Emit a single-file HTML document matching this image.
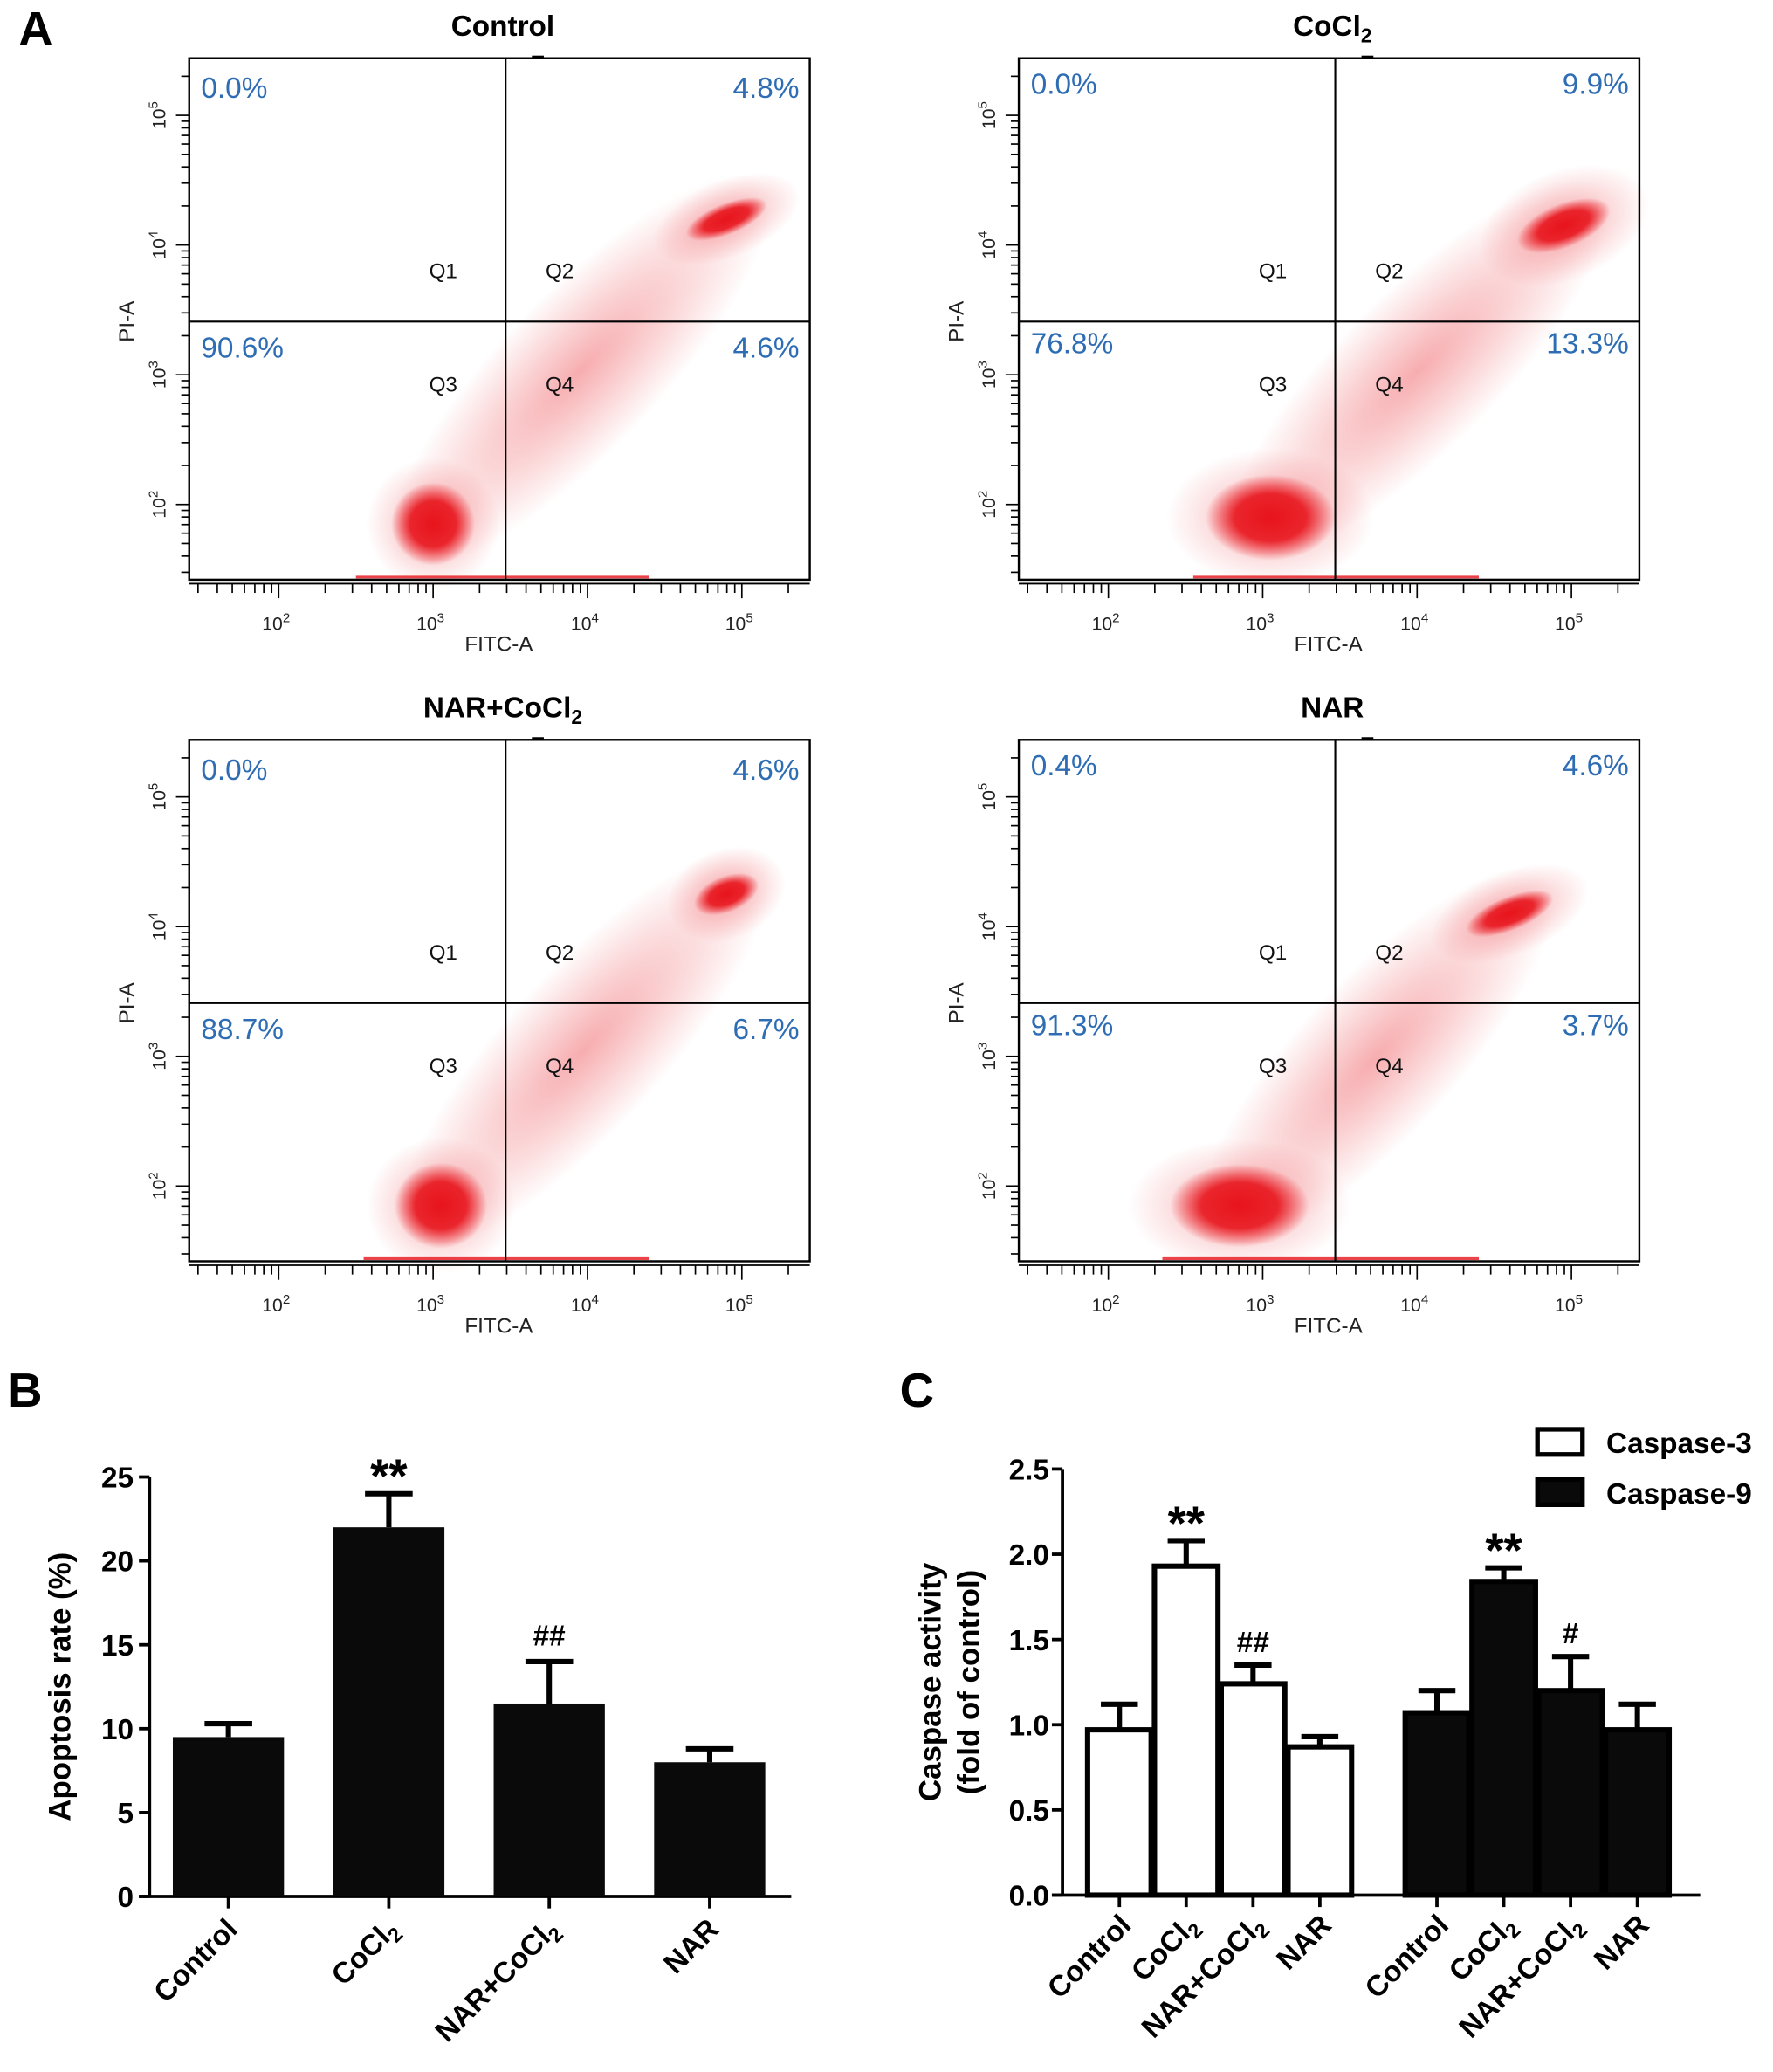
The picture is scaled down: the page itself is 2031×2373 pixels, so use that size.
<!DOCTYPE html>
<html><head><meta charset="utf-8"><style>
html,body{margin:0;padding:0;background:#fff}
svg{display:block}
text{font-family:"Liberation Sans",Arial,sans-serif}
</style></head><body>
<svg id="fig" xmlns="http://www.w3.org/2000/svg" width="2031" height="2373" viewBox="0 0 1340 1565.6">
<defs>
<radialGradient id="dense"><stop offset="0" stop-color="#e8141c" stop-opacity="1"/><stop offset="0.55" stop-color="#e8141c" stop-opacity="0.9"/><stop offset="1" stop-color="#e8141c" stop-opacity="0"/></radialGradient>
<radialGradient id="sparse"><stop offset="0" stop-color="#e8141c" stop-opacity="0.35"/><stop offset="1" stop-color="#e8141c" stop-opacity="0"/></radialGradient>
</defs>
<text x="14" y="34" font-size="36" font-weight="bold">A</text>
<text x="6" y="1063" font-size="36" font-weight="bold">B</text>
<text x="680" y="1063" font-size="36" font-weight="bold">C</text>
<g id="flow"></g><g id="chartB"></g><g id="chartC"></g>
</svg>
<script>
const NS="http://www.w3.org/2000/svg";
function mk(tag,attrs,parent,txt){const e=document.createElementNS(NS,tag);for(const k in attrs)e.setAttribute(k,attrs[k]);if(txt!=null)e.textContent=txt;parent.appendChild(e);return e;}

// ---------- Flow cytometry data ----------
const flowTitles=["Control","CoCl2","NAR+CoCl2","NAR"];
const flowQ1=["0.0%","0.0%","0.0%","0.4%"];
const flowQ2=["4.8%","9.9%","4.6%","4.6%"];
const flowQ3=["90.6%","76.8%","88.7%","91.3%"];
const flowQ4=["4.6%","13.3%","6.7%","3.7%"];
const mainCenter=[[3.0,1.85],[3.05,1.9],[3.05,1.85],[2.85,1.85]];
const mainSpread=[[0.27,0.32],[0.42,0.33],[0.3,0.33],[0.45,0.32]];
const lateCenter=[[4.9,4.2],[4.95,4.15],[4.9,4.25],[4.6,4.1]];
const lateSpread=[[0.28,0.12],[0.32,0.17],[0.22,0.14],[0.3,0.13]];
const gateX=3.47, gateY=3.41, logMin=1.42, logMax=5.44;

const flow=document.getElementById('flow');
const offsets=[[0,0],[627,0],[0,515],[627,515]];
offsets.forEach((o,i)=>{
  const g=mk('g',{transform:`translate(${o[0]},${o[1]})`},flow);
  
  
  const L=143,R=612,T=44,B=438;
  const sx=v=>L+(v-logMin)/(logMax-logMin)*(R-L);
  const sy=v=>B-(v-logMin)/(logMax-logMin)*(B-T);
  const t=mk('text',{x:380,y:27,'font-size':22,'font-weight':'bold','text-anchor':'middle'},g);
  
  const tt=flowTitles[i];
  if(tt.endsWith('Cl2')){mk('tspan',{},t,tt.slice(0,-1));mk('tspan',{'font-size':15,dy:5},t,'2');}else t.textContent=tt;
  mk('rect',{x:402,y:42,width:9,height:2,fill:'#000'},g);
  const cl=mk('g',{},g);
  
  const mx=sx(mainCenter[i][0]),my=sy(mainCenter[i][1]);
  const ax=sx(lateCenter[i][0]),ay=sy(lateCenter[i][1]);
  const bx=(mx+ax)/2,by=(my+ay)/2,ang=Math.atan2(ay-my,ax-mx)*180/Math.PI,len=Math.hypot(ax-mx,ay-my);
  mk('ellipse',{cx:bx,cy:by,rx:len/2+40,ry:60,fill:'url(#sparse)',transform:`rotate(${ang} ${bx} ${by})`},cl);
  mk('ellipse',{cx:mx,cy:my,rx:mainSpread[i][0]*117*1.6,ry:mainSpread[i][1]*98*1.6,fill:'url(#sparse)'},cl);
  mk('ellipse',{cx:mx,cy:my,rx:mainSpread[i][0]*117,ry:mainSpread[i][1]*98,fill:'url(#dense)'},cl);
  mk('ellipse',{cx:ax,cy:ay,rx:lateSpread[i][0]*117*1.8,ry:lateSpread[i][1]*98*2.5,fill:'url(#sparse)',transform:`rotate(-22 ${ax} ${ay})`},cl);
  mk('ellipse',{cx:ax,cy:ay,rx:lateSpread[i][0]*117,ry:lateSpread[i][1]*98,fill:'url(#dense)',transform:`rotate(-22 ${ax} ${ay})`},cl);
  mk('line',{x1:sx(mainCenter[i][0]-0.5),x2:sx(4.4),y1:B-2,y2:B-2,stroke:'#e8141c','stroke-width':2,opacity:0.8},cl);
  const bx2=mk('rect',{x:L,y:T,width:R-L,height:B-T,fill:'none',stroke:'#000','stroke-width':1.6},g);
  
  const gv=mk('line',{x1:sx(gateX),x2:sx(gateX),y1:T,y2:B,stroke:'#000','stroke-width':1.4},g);
  
  const gh=mk('line',{x1:L,x2:R,y1:sy(gateY),y2:sy(gateY),stroke:'#000','stroke-width':1.4},g);
  
  const pc=[[152,74,'start',flowQ1[i]],[604,74,'end',flowQ2[i]],[152,270,'start',flowQ3[i]],[604,270,'end',flowQ4[i]]];
  pc.forEach((p,k)=>{const e=mk('text',{x:p[0],y:p[1]+(i%2?-3:0),'font-size':22,fill:'#2e6db4','text-anchor':p[2]},g,p[3]);
    });
  [['Q1',335,210],['Q2',423,210],['Q3',335,296],['Q4',423,296]].forEach(q=>{const e=mk('text',{x:q[1],y:q[2],'font-size':16,'text-anchor':'middle',fill:'#111'},g,q[0]);
    });
  const xa=mk('g',{},g);
  mk('line',{x1:L,x2:R,y1:B+3,y2:B+3,stroke:'#000','stroke-width':1.2},xa);
  for(let d=1;d<=5;d++)for(let m=1;m<10;m++){const v=d+Math.log10(m);if(v<logMin+0.02||v>logMax)continue;
    const x=sx(v);mk('line',{x1:x,x2:x,y1:B+3,y2:B+(m==1?14:10),stroke:'#000','stroke-width':1.1},xa);}
  for(let d=2;d<=5;d++){const e=mk('text',{x:sx(d)-2,y:B+38,'font-size':14,'text-anchor':'middle',fill:'#222'},xa);
    mk('tspan',{},e,'10');mk('tspan',{'font-size':10,dy:-6},e,String(d));}
  const xt=mk('text',{x:377,y:B+54,'font-size':16,'text-anchor':'middle',fill:'#222'},g,'FITC-A');
  
  const ya=mk('g',{},g);
  for(let d=1;d<=5;d++)for(let m=1;m<10;m++){const v=d+Math.log10(m);if(v<logMin+0.02||v>logMax)continue;
    const y=sy(v);mk('line',{x1:L-(m==1?10:6),x2:L,y1:y,y2:y,stroke:'#000','stroke-width':1.1},ya);}
  for(let d=2;d<=5;d++){const y=sy(d);const e=mk('text',{x:0,y:0,'font-size':14,'text-anchor':'middle',fill:'#222',transform:`translate(${L-18},${y}) rotate(-90)`},ya);
    mk('tspan',{},e,'10');mk('tspan',{'font-size':10,dy:-6},e,String(d));}
  const yt=mk('text',{x:0,y:0,'font-size':16,'text-anchor':'middle',fill:'#222',transform:`translate(101,${sy(gateY)}) rotate(-90)`},g,'PI-A');
  
});

function catLabel(parent,x,y,label,size){
  const t=mk('text',{x:0,y:0,'font-size':size,'font-weight':'bold','text-anchor':'end',transform:`translate(${x},${y}) rotate(-45)`},parent);
  if(label.endsWith('Cl2')){mk('tspan',{},t,label.slice(0,-1));mk('tspan',{'font-size':size*0.7,dy:5},t,'2');}else t.textContent=label;
  return t;
}

// ---------- Chart B ----------
const bCategories=["Control","CoCl2","NAR+CoCl2","NAR"];
const bValues=[9.5,22.0,11.5,8.0];
const bErrors=[0.8,2.0,2.5,0.8];
const bMarks=["","**","##",""];
const bTicks=[0,5,10,15,20,25];
(function(){
  const g=document.getElementById('chartB');
  const X0=113,Y0=1433,X1=598,yMax=25,H=317;
  const y=v=>Y0-v/yMax*H;
  const band=(X1-X0)/bCategories.length, bw=84;
  const xc=i=>X0+band*(i+0.5)-1;
  const ax=mk('g',{},g);
  mk('line',{x1:X0,x2:X0,y1:y(yMax),y2:Y0,stroke:'#000','stroke-width':2.5},ax);
  bTicks.forEach(v=>{mk('line',{x1:X0-8,x2:X0,y1:y(v),y2:y(v),stroke:'#000','stroke-width':2.5},ax);
    mk('text',{x:X0-12,y:y(v)+8,'font-size':22,'font-weight':'bold','text-anchor':'end'},ax,String(v));});
  const xa=mk('g',{},g);
  mk('line',{x1:X0-8,x2:X1,y1:Y0,y2:Y0,stroke:'#000','stroke-width':2.5},xa);
  const yt=mk('text',{x:0,y:0,'font-size':23,'font-weight':'bold','text-anchor':'middle',transform:`translate(53,${y(12.5)}) rotate(-90)`},g,'Apoptosis rate (%)');
  
  bCategories.forEach((c,i)=>{
    const cx=xc(i);
    const r=mk('rect',{x:cx-bw/2,y:y(bValues[i]),width:bw,height:Y0-y(bValues[i]),fill:'#0a0a0a'},g);
    
    
    const top=y(bValues[i]+bErrors[i]);
    const e=mk('path',{d:`M${cx},${y(bValues[i])}V${top}M${cx-18},${top}H${cx+18}`,stroke:'#000','stroke-width':4,fill:'none'},g);
    
    mk('line',{x1:cx,x2:cx,y1:Y0,y2:Y0+9,stroke:'#000','stroke-width':2.5},xa);
    const l=catLabel(xa,cx+8,Y0+26,c,22);
    
    if(bMarks[i]){const star=bMarks[i][0]=='*';const m=mk('text',{x:cx,y:top-(star?1:12),'font-size':star?36:22,'font-weight':'bold','text-anchor':'middle'},g,bMarks[i]);
      }
  });
})();

// ---------- Chart C ----------
const cCategories=["Control","CoCl2","NAR+CoCl2","NAR"];
const cSeries=["Caspase-3","Caspase-9"];
const c3Values=[0.97,1.93,1.24,0.87];
const c3Errors=[0.15,0.15,0.11,0.06];
const c9Values=[1.07,1.84,1.20,0.97];
const c9Errors=[0.13,0.08,0.20,0.15];
const c3Marks=["","**","##",""];
const c9Marks=["","**","#",""];
const cTicks=[0,0.5,1.0,1.5,2.0,2.5];
(function(){
  const g=document.getElementById('chartC');
  const X0=803,Y0=1432,X1=1285,yMax=2.5,H=322;
  const y=v=>Y0-v/yMax*H;
  const bw=52;
  const xc=(s,i)=>846+s*240+i*50.5;
  const ax=mk('g',{},g);
  mk('line',{x1:X0,x2:X0,y1:y(yMax),y2:Y0,stroke:'#000','stroke-width':2.5},ax);
  cTicks.forEach(v=>{mk('line',{x1:X0-8,x2:X0,y1:y(v),y2:y(v),stroke:'#000','stroke-width':2.5},ax);
    mk('text',{x:X0-10,y:y(v)+8,'font-size':22,'font-weight':'bold','text-anchor':'end'},ax,v.toFixed(1));});
  const xa=mk('g',{},g);
  mk('line',{x1:X0-8,x2:X1,y1:Y0,y2:Y0,stroke:'#000','stroke-width':2.5},xa);
  const yt=mk('text',{x:0,y:0,'font-size':23,'font-weight':'bold','text-anchor':'middle',transform:`translate(711,${y(1.25)}) rotate(-90)`},g,'Caspase activity');
  
  const yt2=mk('text',{x:0,y:0,'font-size':23,'font-weight':'bold','text-anchor':'middle',transform:`translate(740,${y(1.25)}) rotate(-90)`},g,'(fold of control)');
  
  const vals=[c3Values,c9Values],errs=[c3Errors,c9Errors],marks=[c3Marks,c9Marks];
  [0,1].forEach(s=>{
    cCategories.forEach((c,i)=>{
      const cx=xc(s,i),v=vals[s][i];
      const r=mk('rect',{x:cx-bw/2+2,y:y(v),width:bw-4,height:Y0-y(v),fill:s?'#0a0a0a':'#fff',stroke:'#000','stroke-width':4},g);
      
      
      const top=y(v+errs[s][i]);
      const e=mk('path',{d:`M${cx},${y(v)}V${top}M${cx-14},${top}H${cx+14}`,stroke:'#000','stroke-width':4,fill:'none'},g);
      
      mk('line',{x1:cx,x2:cx,y1:Y0,y2:Y0+9,stroke:'#000','stroke-width':2.5},xa);
      const l=catLabel(xa,cx+10,Y0+24,c,22);
      
      const mkv=marks[s][i];
      if(mkv){const star=mkv[0]=='*';const m=mk('text',{x:cx,y:top-(star?1:10),'font-size':star?36:22,'font-weight':'bold','text-anchor':'middle'},g,mkv);
        }
    });
  });
  const lg=mk('g',{},g);
  cSeries.forEach((s,k)=>{
    const e=mk('g',{},lg);
    mk('rect',{x:1162,y:1080+k*38,width:34,height:19,fill:k?'#0a0a0a':'#fff',stroke:'#000','stroke-width':3.5},e);
    mk('text',{x:1214,y:1098+k*38,'font-size':22,'font-weight':'bold'},e,s);
  });
})();
</script>
</body></html>
